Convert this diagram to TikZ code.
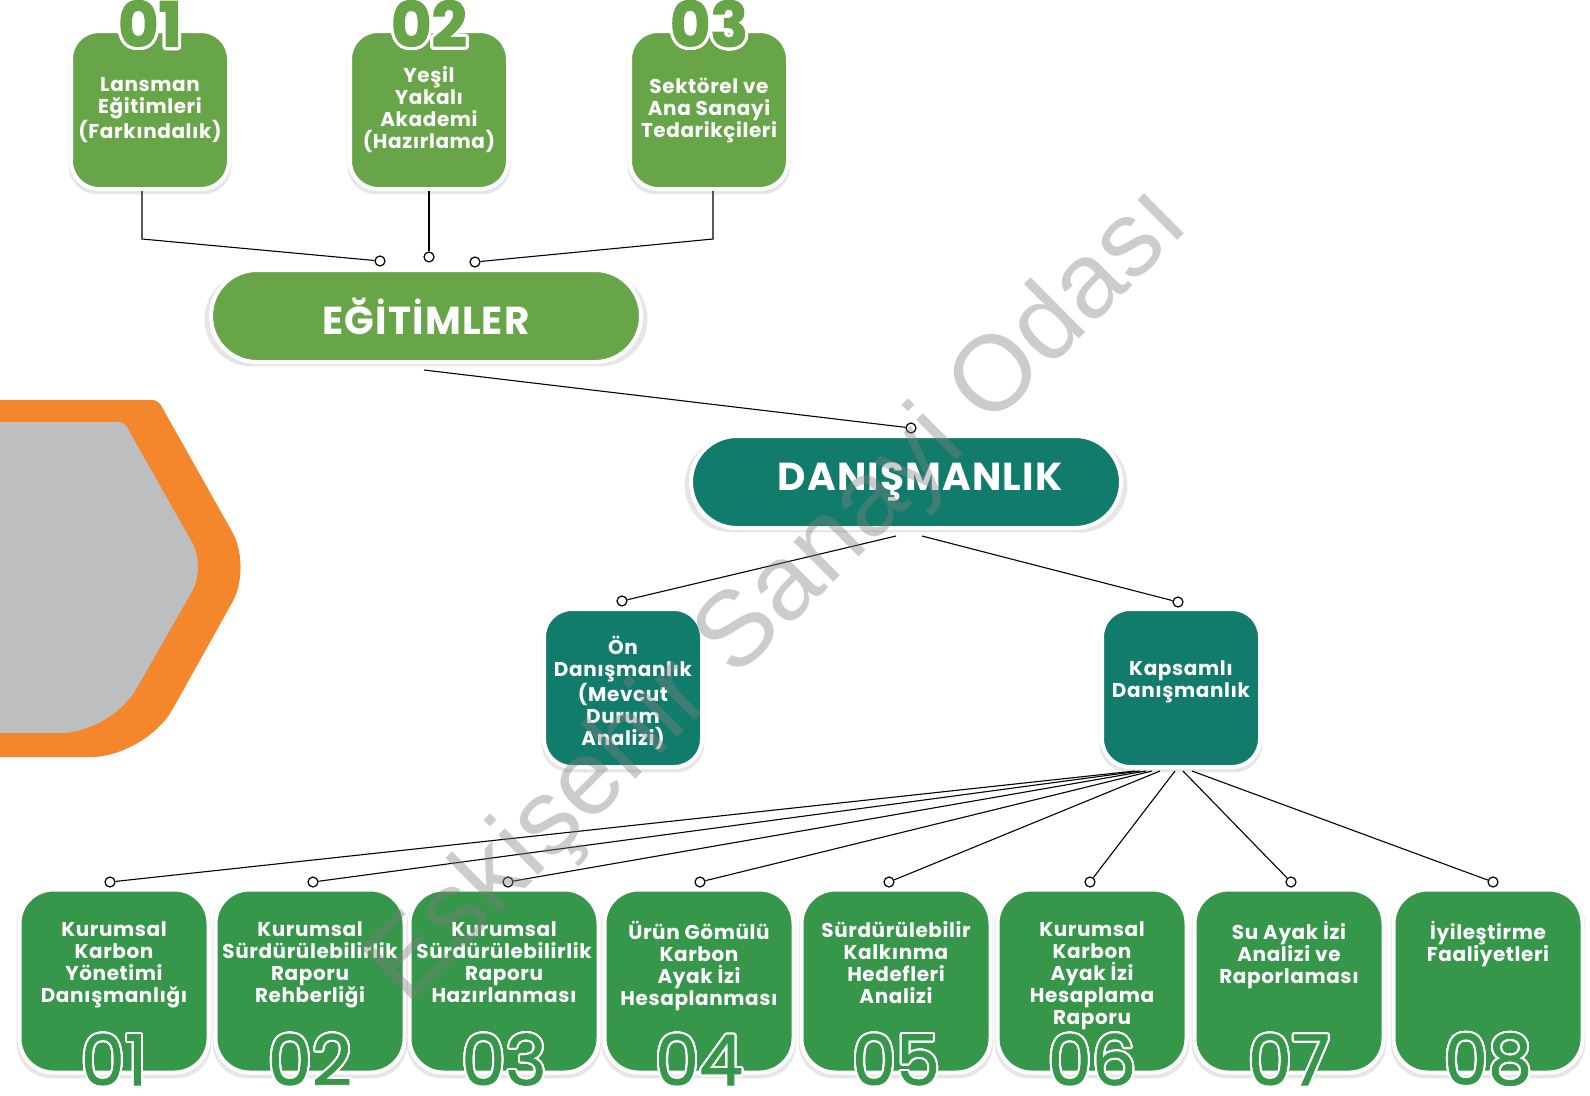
\documentclass[tikz,border=0pt]{standalone}
\usepackage{fontspec}
\setmainfont{Poppins}[LetterSpace=3]
\newfontfamily\wmfont{Liberation Sans}
\newfontfamily\heavyfont{Poppins}[FakeBold=2]
\newfontfamily\midfont{Poppins}[FakeBold=1]
\usepackage{contour}
\contournumber{40}
\usetikzlibrary{positioning,calc,shadows}
\definecolor{egitgreen}{RGB}{104,165,73}
\definecolor{danteal}{RGB}{17,123,108}
\definecolor{hizgreen}{RGB}{54,150,74}
\definecolor{hexorange}{RGB}{244,135,44}
\definecolor{hexgray}{RGB}{188,190,192}
\tikzset{
  card/.style={draw=white,line width=4pt,rounded corners=28pt,text=white,align=center,
    inner sep=0pt,minimum width=158pt,minimum height=158pt,
    drop shadow={shadow xshift=0pt,shadow yshift=-3pt,shadow scale=1.03,opacity=.2}},
  egit/.style={card,fill=egitgreen},
  danis/.style={card,fill=danteal},
  pill/.style={card,minimum width=430pt,minimum height=92pt,rounded corners=46pt,
    font=\bfseries\fontsize{39}{40}\selectfont},
  hizmet/.style={card,fill=hizgreen,minimum width=189pt,minimum height=183pt,rounded corners=34pt},
  hiztext/.style={text=white,align=center,inner sep=0pt,anchor=north,
    font=\bfseries\fontsize{20}{22}\selectfont,execute at begin node=\vphantom{Ü}},
  topnum/.style={text=egitgreen,inner sep=0pt,font=\heavyfont\bfseries\fontsize{62}{62}\selectfont},
  botnum/.style={text=hizgreen,inner sep=0pt,font=\midfont\mdseries\fontsize{70}{70}\selectfont},
  halka/.style={circle,draw=black,line width=1.2pt,fill=white,minimum size=10pt,inner sep=0pt},
  bag/.style={line width=1.1pt},
  wmark/.style={font=\wmfont\mdseries\fontsize{107}{107}\selectfont,text=black!50,
    text opacity=.4,rotate=44.8,inner sep=0pt}
}

\begin{document}
\begin{tikzpicture}[x=1pt,y=-1pt,font=\bfseries\fontsize{20}{22}\selectfont]
\useasboundingbox (0,0) rectangle (1590,1095);

% altigen
\fill[hexorange] (0,400) [rounded corners=6pt] -- (158,400) [rounded corners=40pt] -- (252,567)
  [rounded corners=55pt] -- (146,757) [sharp corners] -- (0,757) -- cycle;
\fill[hexgray] (0,422) [rounded corners=5pt] -- (124,422) [rounded corners=28pt] -- (206,567)
  [rounded corners=50pt] -- (111,733) [sharp corners] -- (0,733) -- cycle;

% kutular
\node[egit] (t1) at (150,110) {Lansman\\Eğitimleri\\(Farkındalık)};
\node[egit] (t2) at (429,110) {Yeşil\\Yakalı\\Akademi\\(Hazırlama)};
\node[egit] (t3) at (709,110) {Sektörel ve\\Ana Sanayi\\Tedarikçileri};
\node[topnum] (n1) at ([yshift=4pt]t1.north) {\contourlength{3pt}\contour{white}{01}};
\node[topnum] (n2) at ([yshift=4pt]t2.north) {\contourlength{3pt}\contour{white}{02}};
\node[topnum] (n3) at ([yshift=4pt]t3.north) {\contourlength{3pt}\contour{white}{03}};

\node[pill,fill=egitgreen] (egitim) at (426,316) {EĞİTİMLER};
\node[pill,fill=danteal] (danis) at (906,482) {\hspace*{28pt}DANIŞMANLIK};
\node[danis] (on) at (623,688) {\mbox{}\\[6pt]Ön\\Danışmanlık\\(Mevcut\\Durum\\Analizi)};
\node[danis] (kap) at (1181,688) {Kapsamlı\\Danışmanlık\\[-5pt]\mbox{}};

% baglantilar
\node[halka] (c1) at (380,261) {};
\node[halka] (c2) at (429,257) {};
\node[halka] (c3) at (475,262) {};
\draw[bag] ([xshift=-8pt]t1.south) -- ++(0,48) -- (c1);
\draw[bag] (t2.south) -- (c2);
\draw[bag] ([xshift=4pt]t3.south) -- ++(0,48) -- (c3);

\coordinate (e0) at (424,370);
\node[halka] (d0) at (911,428) {};
\draw[bag] (e0) -- (d0);

\coordinate (d1) at (896,536);
\coordinate (d2) at (922,536);
\node[halka] (o0) at (622,601) {};
\node[halka] (k0) at (1178,602) {};
\draw[bag] (d1) -- (o0);
\draw[bag] (d2) -- (k0);

% hizmetler
\foreach \i/\x/\px/\kx/\txt in {
  1/114/110/1135/{Kurumsal\\Karbon\\Yönetimi\\Danışmanlığı},
  2/310/313/1140/{Kurumsal\\Sürdürülebilirlik\\Raporu\\Rehberliği},
  3/504/508/1146/{Kurumsal\\Sürdürülebilirlik\\Raporu\\Hazırlanması},
  4/699/700/1152/{Ürün Gömülü\\Karbon\\Ayak İzi\\Hesaplanması},
  5/896/889/1160/{Sürdürülebilir\\Kalkınma\\Hedefleri\\Analizi},
  6/1092/1090/1175/{Kurumsal\\Karbon\\Ayak İzi\\Hesaplama\\Raporu},
  7/1289/1291/1183/{Su Ayak İzi\\Analizi ve\\Raporlaması},
  8/1488/1493/1192/{İyileştirme\\Faaliyetleri}} {
  \node[hizmet] (b\i) at (\x,981) {};
  \node[hiztext] (h\i) at ([yshift=-34pt]b\i.north) {\txt};
  \node[botnum] (m\i) at ([yshift=14pt]b\i.south) {\contourlength{2pt}\contour{white}{0\i}};
  \coordinate (k\i) at (\kx,771);
  \node[halka] (p\i) at (\px,882) {};
  \draw[bag] (k\i) -- (p\i);
}

\node[wmark] (wm) at (780,597) {Eskişehir Sanayi Odası};
\end{tikzpicture}
\end{document}
